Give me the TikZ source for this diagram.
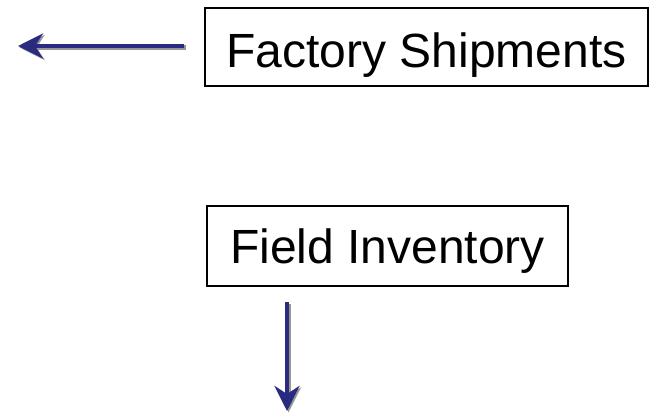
\documentclass[tikz,border=0pt]{standalone}
\usepackage{fontspec}
\setmainfont{Liberation Sans}
\usetikzlibrary{arrows.meta}
\definecolor{navy}{RGB}{42,42,128}
\definecolor{shadowgray}{RGB}{150,150,150}
\tikzset{
  label box/.style={draw=black, line width=1.3pt, inner sep=0pt, text depth=0pt, font=\fontsize{48}{56}\selectfont},
  flow arrow/.style={draw=navy, line width=4.5pt, -{Stealth[length=25pt,width=25pt,inset=8pt]}},
  flow shadow/.style={draw=shadowgray, line width=4.5pt, -{Stealth[length=25pt,width=25pt,inset=8pt]}}
}
\begin{document}
\begin{tikzpicture}[x=1pt,y=-1pt]
\useasboundingbox (0,0) rectangle (649,413);
\node[label box, minimum width=443pt, minimum height=78pt, text height=40pt] (factory) at (426.5,47) {Factory Shipments};
\node[label box, minimum width=361pt, minimum height=80pt, text height=34pt] (field) at (387.5,246) {Field Inventory};
\coordinate (leftend) at (18,46);
\coordinate (downstart) at (287,302);
\coordinate (downend) at (287,411);
% shadows
\draw[flow shadow, transform canvas={shift={(1.5pt,-1.5pt)}}] ([xshift=-20pt]factory.west |- leftend) -- (leftend);
\draw[flow shadow, transform canvas={shift={(1.5pt,-1.5pt)}}] (downstart) -- (downend);
% arrows
\draw[flow arrow] ([xshift=-20pt]factory.west |- leftend) -- (leftend);
\draw[flow arrow] (downstart) -- (downend);
\end{tikzpicture}
\end{document}
